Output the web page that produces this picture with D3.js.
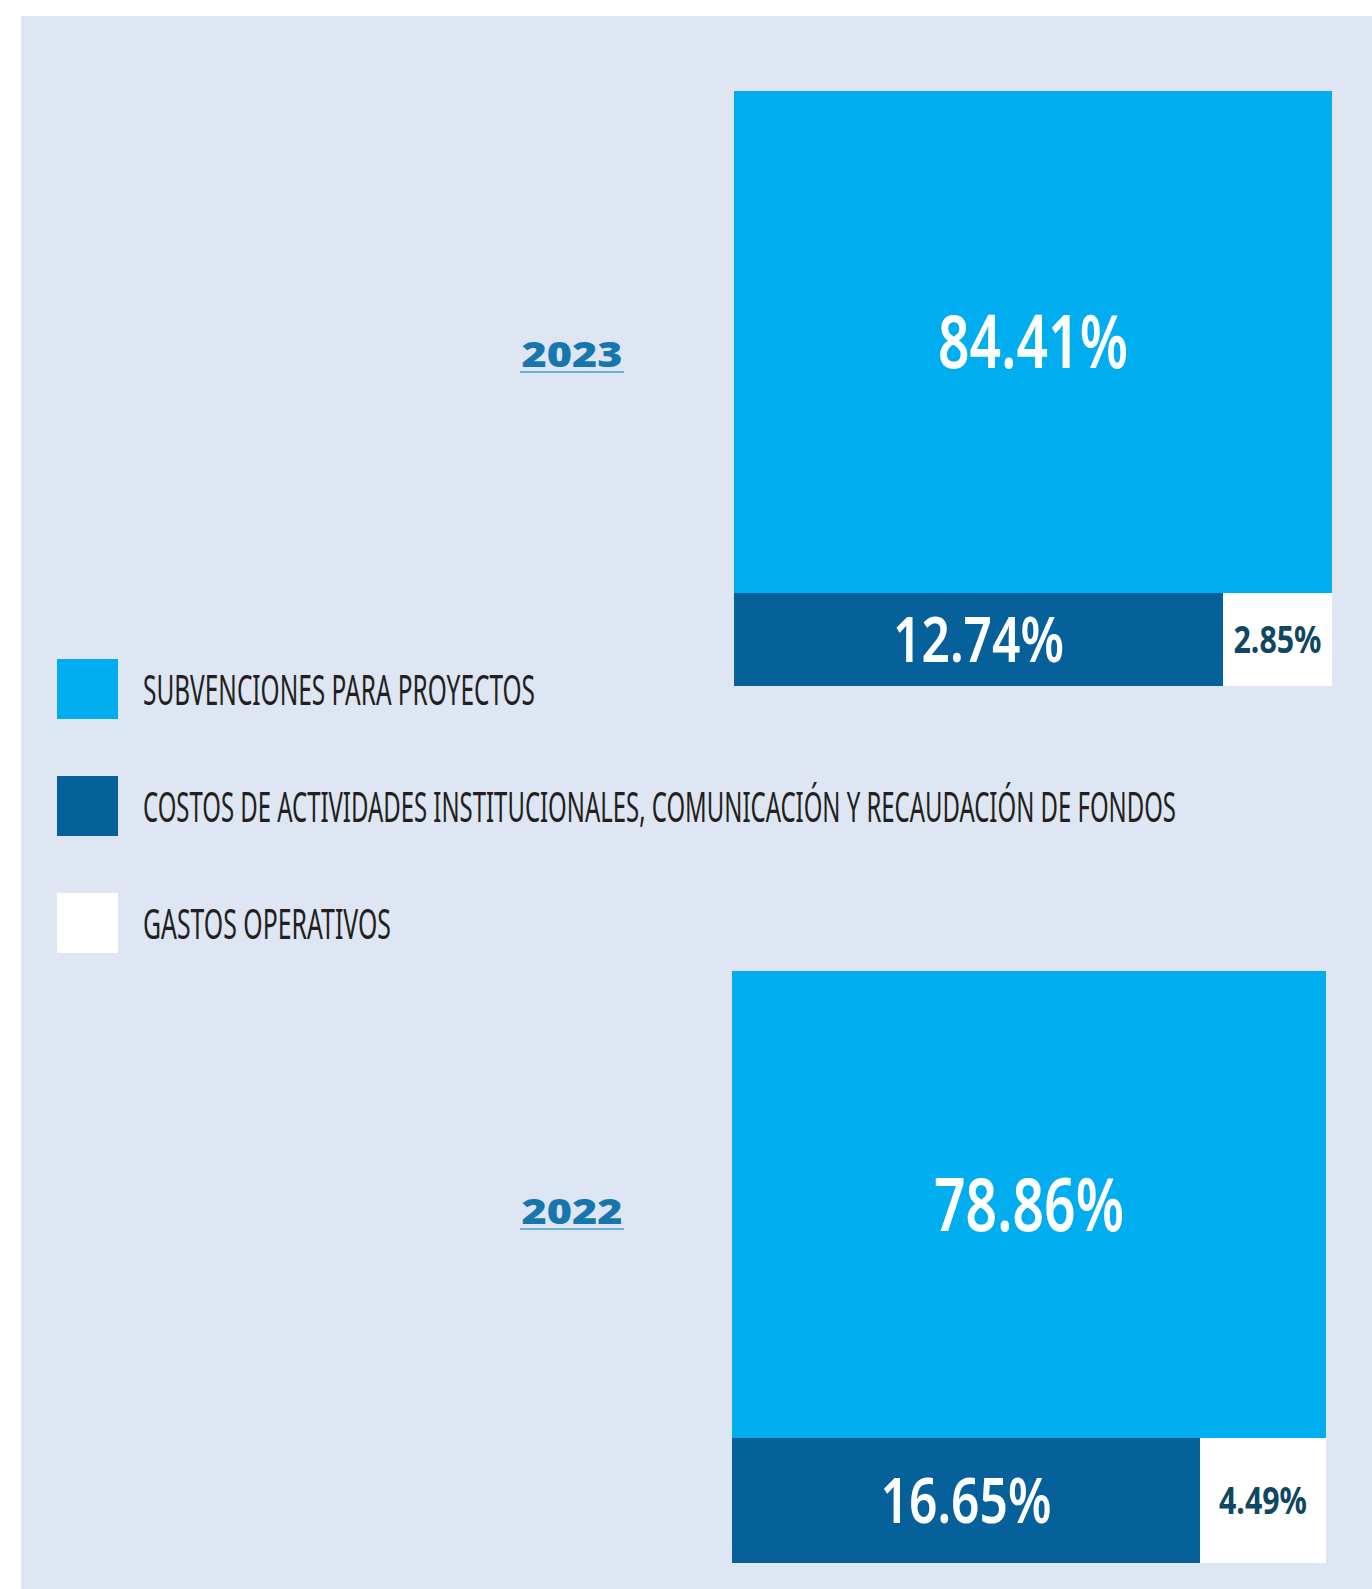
<!DOCTYPE html>
<html>
<head>
<meta charset="utf-8">
<script src="https://cdn.jsdelivr.net/npm/d3@7"></script>
<style>
  body { margin: 0; background: #fff; }
  svg { display: block; }
</style>
</head>
<body>
<div id="chart"></div>
<script>
// data
var years = ["2023", "2022"];
var categories = [
  "SUBVENCIONES PARA PROYECTOS",
  "COSTOS DE ACTIVIDADES INSTITUCIONALES, COMUNICACIÓN Y RECAUDACIÓN DE FONDOS",
  "GASTOS OPERATIVOS"
];
var values2023 = [84.41, 12.74, 2.85];
var values2022 = [78.86, 16.65, 4.49];

var svgWidth = 1372;
var svgHeight = 1589;

// styles
var fills = ["#00aeef", "#06619a", "#ffffff"];
var labelColors = ["#ffffff", "#ffffff", "#0f4763"];
var labelSizes = [74, 63, 37];
var labelWidths = [190, 171, 88];
var legendWidths = [392, 1033, 248];

// boxes for each year's treemap
var boxes = [
  { x: 734, y: 91, w: 598, h: 595 },
  { x: 732, y: 971, w: 594, h: 592 }
];
var yearLabelY = [367, 1224];

var svg = d3.select("#chart")
  .append("svg")
  .attr("width", svgWidth)
  .attr("height", svgHeight);

// background panel
svg.append("rect")
  .attr("x", 21)
  .attr("y", 16)
  .attr("width", svgWidth - 21)
  .attr("height", svgHeight - 16)
  .attr("fill", "#dde6f2");

var fmt = d3.format(".2f");
var allValues = [values2023, values2022];

// top level stacks vertically, second level splits the bottom row sideways
function tile(parent, x0, y0, x1, y1) {
  (parent.depth & 1 ? d3.treemapDice : d3.treemapSlice)(parent, x0, y0, x1, y1);
}

years.forEach(function(year, yi) {
  var vals = allValues[yi];
  var box = boxes[yi];

  var tree = {
    name: year,
    children: [
      { idx: 0, value: vals[0] },
      { name: "rest", children: [
        { idx: 1, value: vals[1] },
        { idx: 2, value: vals[2] }
      ] }
    ]
  };

  var root = d3.hierarchy(tree).sum(function(d) { return d.value || 0; });
  d3.treemap()
    .size([box.w, box.h])
    .tile(tile)
    .round(true)(root);

  var g = svg.append("g")
    .attr("transform", `translate(${box.x}, ${box.y})`);

  var leaves = g.selectAll("g.cell")
    .data(root.leaves())
    .enter()
    .append("g")
    .attr("class", "cell");

  leaves.append("rect")
    .attr("x", d => d.x0)
    .attr("y", d => d.y0)
    .attr("width", d => d.x1 - d.x0)
    .attr("height", d => d.y1 - d.y0)
    .attr("fill", d => fills[d.data.idx]);

  leaves.append("text")
    .attr("x", d => (d.x0 + d.x1) / 2)
    .attr("y", d => (d.y0 + d.y1) / 2 + labelSizes[d.data.idx] * 0.714 / 2)
    .attr("text-anchor", "middle")
    .attr("font-family", "'Noto Sans', sans-serif")
    .attr("font-weight", d => d.data.idx == 2 ? 700 : 600)
    .attr("font-size", d => labelSizes[d.data.idx])
    .attr("fill", d => labelColors[d.data.idx])
    .attr("textLength", d => labelWidths[d.data.idx])
    .attr("lengthAdjust", "spacingAndGlyphs")
    .text(d => fmt(d.value) + "%");

  // year label with underline
  svg.append("text")
    .attr("x", 572)
    .attr("y", yearLabelY[yi])
    .attr("text-anchor", "middle")
    .attr("font-family", "'Open Sans', sans-serif")
    .attr("font-weight", 800)
    .attr("font-size", 36)
    .attr("fill", "#1676ad")
    .attr("textLength", 101)
    .attr("lengthAdjust", "spacingAndGlyphs")
    .text(year);

  svg.append("line")
    .attr("x1", 520)
    .attr("x2", 624)
    .attr("y1", yearLabelY[yi] + 5)
    .attr("y2", yearLabelY[yi] + 5)
    .attr("stroke", "#4c9dd2")
    .attr("stroke-width", 1.5);
});

// legend
var legendY = d3.scalePoint()
  .domain(categories)
  .range([659, 893]);

var legend = svg.selectAll("g.legend")
  .data(categories)
  .enter()
  .append("g")
  .attr("class", "legend")
  .attr("transform", d => `translate(57, ${legendY(d)})`);

legend.append("rect")
  .attr("width", 61)
  .attr("height", 60)
  .attr("fill", (d, i) => fills[i]);

legend.append("text")
  .attr("x", 86)
  .attr("y", 46)
  .attr("font-family", "'Noto Sans', sans-serif")
  .attr("font-size", 42)
  .attr("fill", "#231f20")
  .attr("textLength", (d, i) => legendWidths[i])
  .attr("lengthAdjust", "spacingAndGlyphs")
  .text(d => d);
</script>
</body>
</html>
